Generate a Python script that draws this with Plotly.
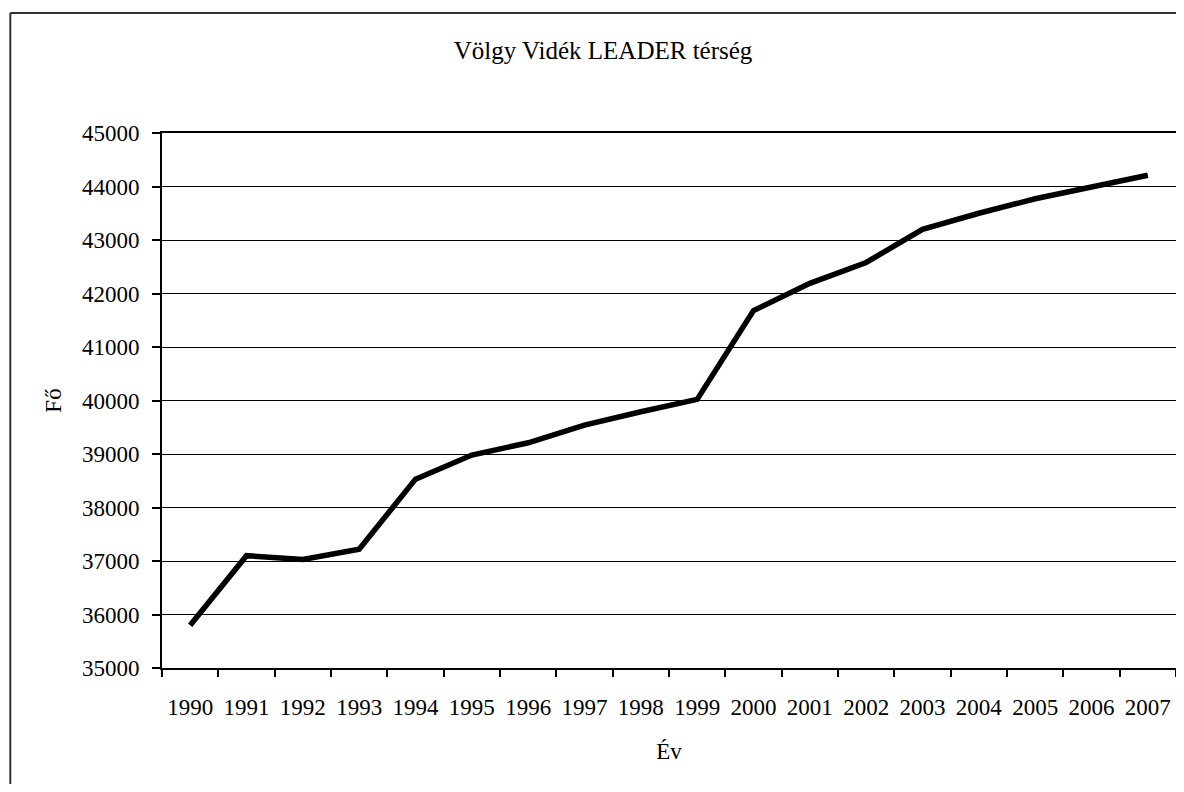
import plotly.graph_objects as go

years = [str(y) for y in range(1990, 2008)]
population = [35800, 37100, 37030, 37220, 38530, 38980, 39210, 39540, 39790, 40020,
              41680, 42190, 42580, 43200, 43500, 43770, 43990, 44210]
y_ticks = list(range(35000, 45001, 1000))

title_text = "Völgy Vidék LEADER térség"
x_title = "Év"
y_title = "Fő"

FONT = "Liberation Serif"

fig = go.Figure()
fig.add_trace(go.Scatter(
    x=years, y=population, mode="lines",
    line=dict(color="black", width=5.5),
    showlegend=False, hoverinfo="x+y",
))

# page body has an 8px margin: size the figure so the page does not scroll
W, H = 1170, 776
OFF = 8
L, T = 162 - OFF, 133 - OFF
R = 0
B = H - (668 - OFF)
ph = H - T - B
pw = W - L - R

frame_x0 = (10 - 162) / pw
frame_top = (668 - 13) / ph
frame_style = dict(color="#333333", width=2)

fig.update_layout(
    width=W, height=H,
    margin=dict(l=L, r=R, t=T, b=B, pad=0),
    paper_bgcolor="white", plot_bgcolor="white",
    font=dict(family=FONT, color="black", size=23),
    title=dict(text=title_text, x=(603 - OFF) / W, xanchor="center",
               y=1 - (50 - OFF) / H, yanchor="middle", yref="container",
               font=dict(family=FONT, size=25, color="black")),
    xaxis=dict(
        type="category", tickson="boundaries", ticks="outside", ticklen=7,
        tickcolor="black", tickwidth=1.5, range=[-0.5, len(years) - 0.5],
        showline=True, linecolor="black", linewidth=2, mirror=True,
        showgrid=False, tickfont=dict(family=FONT, size=23), tickangle=0,
        ticklabelstandoff=17,
        title=dict(text=x_title, font=dict(family=FONT, size=23), standoff=24),
    ),
    yaxis=dict(
        range=[35000, 45000], tickvals=y_ticks, ticktext=[str(v) for v in y_ticks],
        ticks="outside", ticklen=8, tickcolor="black", tickwidth=1.5,
        showline=True, linecolor="black", linewidth=2, mirror=True,
        showgrid=True, gridcolor="black", gridwidth=1,
        tickfont=dict(family=FONT, size=23), zeroline=False,
        ticklabelstandoff=8,
        title=dict(text=y_title, font=dict(family=FONT, size=23), standoff=14),
    ),
    shapes=[
        dict(type="line", xref="paper", yref="paper",
             x0=frame_x0, x1=1.2, y0=frame_top, y1=frame_top, line=frame_style),
        dict(type="line", xref="paper", yref="paper",
             x0=frame_x0, x1=frame_x0, y0=frame_top, y1=-0.5, line=frame_style),
    ],
)

fig.write_html("out.html")
